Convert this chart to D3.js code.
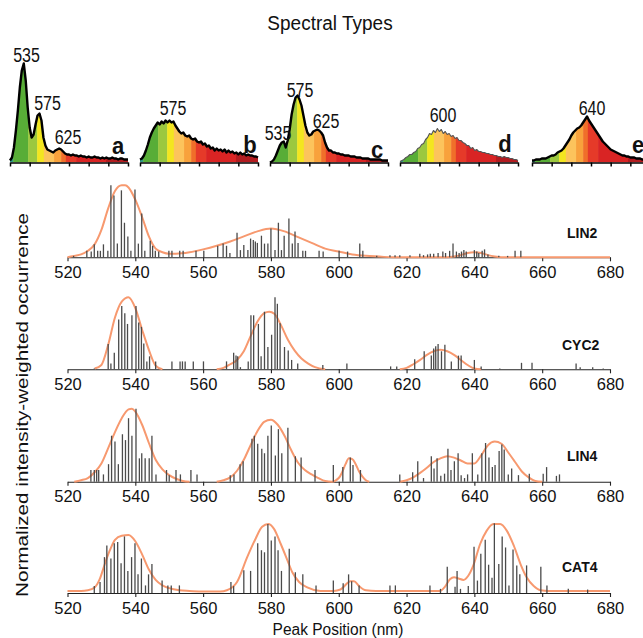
<!DOCTYPE html>
<html><head><meta charset="utf-8">
<script src="https://cdn.jsdelivr.net/npm/d3@7/dist/d3.min.js"></script>
<style>body{margin:0;background:#fff}svg{display:block}text{font-family:"Liberation Sans",Arial,Helvetica,sans-serif;fill:#111}</style>
</head><body><svg id="c" width="643" height="638"></svg>
<script>
// ---------- DATA ----------
const specStart = 500, specStep = 5;
const specA = [2,5,15,32,52,75,92,99,82,55, 35,25,28,38,47,49,42,25,17,13, 12,11,10,12,13,14,13,11,9,8, 8,7,8,7,7,6,7,6,6,5, 6,5,5,6,5,5,4,5,4,5, 4,4,5,4,4,3,4,4,3,3, 3];
const specB = [3,4,7,12,18,25,30,34,37,40, 38,41,39,42,40,42,40,41,37,34, 31,29,30,27,26,27,24,23,24,21, 20,21,18,19,16,17,14,15,12,14, 12,13,11,13,10,12,10,11,9,10, 8,10,8,9,7,8,7,7,6,6, 5];
const specC = [0,1,3,7,12,17,20,21,15,22, 33,48,58,65,67,63,57,47,37,30, 27,28,31,32,33,32,30,27,20,15, 12,12,10,10,9,9,8,8,7,7, 7,6,6,6,5,5,5,4,4,4, 4,3,3,3,3,3,3,2,2,2, 2];
const specD = [1,2,3,5,6,8,8,10,11,14, 15,18,19,23,25,29,28,32,30,34, 31,33,29,31,28,29,26,27,24,25, 22,22,20,19,17,17,14,15,12,13, 11,11,10,10,9,9,8,8,7,7, 6,6,5,6,5,5,4,4,3,3, 2];
const specE = [2,2,3,3,3,4,4,4,5,6, 7,7,8,10,11,12,14,17,20,23, 27,30,32,34,35,37,40,43,46,42, 39,36,33,30,27,24,21,19,17,15, 13,12,11,10,9,8,7,7,6,6, 5,5,5,4,4,4,3,3,3,3, 2];
const spectra = [specA, specB, specC, specD, specE];
const specLetters = ["a","b","c","d","e"];
const specPeakLabels = [["535","575","625"],["575"],["535","575","625"],["600"],["640"]];
const specTicks = [500,550,600,650,700,750,800];
const bandStops = [500,508,546,569,586,612,630,642,668,744,800];
const bandColors = ["#2f9a86","#58ad37","#9cc83f","#f3e61f","#fcc45c","#f8a23c","#f06f2a","#e53a29","#d92424","#b21c20"];

const peakTicks = [520,540,560,580,600,620,640,660,680];
const panelNames = ["LIN2","CYC2","LIN4","CAT4"];

const lin2Bars = [[521.8,0.02],[525.7,0.09],[527,0.08],[527.9,0.18],[528.9,0.09],[529.7,0.09],[530.6,0.18],[531.9,0.09],[532.8,1.0],[533.7,0.86],[534.7,0.19],[535.9,0.93],[536.8,0.48],[537.8,0.29],[538.7,0.09],[539.9,0.94],[540.9,0.19],[541.9,0.61],[542.8,0.09],[544.4,0.23],[545.1,0.16],[545.9,0.09],[546.9,0.08],[549.9,0.09],[550.8,0.09],[553.1,0.09],[554.1,0.09],[557.9,0.09],[560.2,0.09],[564.3,0.16],[565.9,0.19],[566.9,0.16],[567.9,0.06],[570.0,0.34],[571.0,0.1],[572.0,0.17],[573.2,0.1],[574.0,0.26],[574.8,0.24],[575.4,0.22],[576.0,0.2],[577.2,0.3],[578.1,0.19],[579.1,0.19],[580.0,0.4],[581.2,0.1],[582.2,0.48],[583.1,0.1],[583.9,0.3],[585.3,0.54],[586.3,0.19],[587.1,0.36],[588.0,0.2],[589.4,0.09],[590.2,0.09],[594.2,0.09],[595.4,0.08],[600.1,0.09],[602.6,0.08],[606.2,0.19],[607.1,0.09],[611.2,0.02],[615.1,0.03],[616.6,0.03],[618.0,0.03],[621.0,0.03],[623.9,0.05],[625.0,0.03],[626.2,0.04],[627.0,0.05],[628.0,0.05],[629.3,0.06],[630.7,0.08],[631.5,0.06],[632.7,0.09],[633.7,0.19],[634.7,0.08],[635.5,0.06],[636.2,0.08],[636.9,0.1],[637.6,0.08],[640.0,0.1],[640.7,0.08],[641.3,0.06],[642.3,0.09],[643.0,0.11],[644.0,0.04],[647.2,0.02],[649.8,0.02],[652.0,0.09],[653.7,0.09]];
const cyc2Bars = [[527.9,0.01],[532.0,0.35],[532.8,0.08],[533.8,0.23],[535.1,0.69],[536.0,0.88],[536.9,0.78],[537.7,0.63],[539.0,0.75],[540.2,0.88],[541.0,0.65],[541.8,0.59],[542.5,0.36],[543.4,0.11],[544.2,0.18],[546.0,0.11],[550.8,0.11],[553.2,0.11],[553.9,0.11],[554.7,0.11],[557.1,0.11],[560.1,0.11],[566.9,0.11],[569.0,0.23],[569.7,0.19],[570.2,0.18],[571.0,0.03],[573.3,0.11],[574.1,0.75],[574.9,0.75],[576.3,0.63],[577.1,0.18],[578.1,0.8],[579.1,0.31],[580.2,0.48],[581.2,1.0],[581.9,0.91],[582.7,0.64],[584.0,0.31],[585.1,0.26],[586.1,0.13],[587.9,0.08],[595.3,0.06],[602.4,0.08],[615.3,0.04],[617.1,0.04],[622.4,0.14],[625.2,0.25],[627.3,0.19],[628.0,0.29],[628.6,0.32],[629.3,0.35],[630.3,0.25],[631.3,0.34],[633.2,0.11],[635.3,0.19],[636.1,0.19],[640.0,0.13],[642.0,0.04],[647.5,0.01],[653.9,0.09],[657.0,0.09],[670.0,0.08],[671.2,0.03],[674.9,0.03],[678.0,0.01]];
const lin4Bars = [[526.9,0.16],[527.9,0.16],[528.6,0.16],[529.2,0.16],[530.6,0.1],[532.1,0.24],[533.0,0.63],[534.0,0.55],[535.0,0.24],[536.2,0.65],[537.1,0.57],[538.0,0.87],[539.0,0.63],[540.2,1.0],[541.2,0.32],[541.9,0.39],[542.9,0.32],[544.1,0.32],[544.9,0.63],[546.1,0.1],[549.2,0.16],[550.0,0.09],[552.0,0.16],[553.3,0.1],[556.4,0.16],[558.2,0.1],[568.0,0.09],[569.1,0.1],[570.9,0.24],[571.8,0.28],[574.4,0.59],[575.1,0.63],[576.1,0.52],[577.3,0.45],[578.1,0.39],[579.1,0.63],[580.1,0.77],[581.3,0.36],[582.2,0.72],[583.2,0.39],[585.0,0.74],[587.2,0.35],[588.9,0.33],[593.0,0.16],[598.4,0.23],[601.2,0.2],[603.4,0.33],[604.2,0.23],[606.4,0.16],[618.0,0.1],[621.8,0.13],[623.3,0.28],[625.0,0.05],[627.3,0.35],[628.1,0.18],[629.0,0.32],[630.1,0.08],[631.2,0.11],[632.2,0.45],[633.1,0.16],[634.1,0.28],[635.2,0.39],[636.1,0.09],[637.1,0.05],[638.0,0.1],[639.4,0.39],[641.0,0.1],[642.2,0.39],[643.3,0.53],[644.3,0.33],[645.3,0.2],[646.1,0.23],[647.3,0.42],[648.1,0.51],[648.8,0.44],[650.0,0.1],[651.0,0.18],[653.0,0.09],[656.2,0.11],[660.3,0.11],[661.3,0.2],[664.2,0.08],[665.1,0.1]];
const cat4Bars = [[527.9,0.1],[529.6,0.16],[530.9,0.52],[531.6,0.69],[532.8,0.5],[533.8,0.72],[534.8,0.74],[535.8,0.43],[536.8,0.82],[537.8,0.32],[538.9,0.52],[539.9,0.72],[540.8,0.27],[541.8,0.5],[543.0,0.11],[543.9,0.27],[544.9,0.42],[547.9,0.18],[549.6,0.11],[550.6,0.11],[553.0,0.11],[568.2,0.16],[569.0,0.1],[572.0,0.33],[574.0,0.32],[576.1,0.72],[577.2,0.62],[578.1,0.59],[579.1,1.0],[580.1,0.76],[581.2,0.82],[582.1,0.62],[583.1,0.32],[585.4,0.64],[587.2,0.3],[589.4,0.27],[593.3,0.11],[598.4,0.18],[601.3,0.14],[602.9,0.27],[603.8,0.17],[606.0,0.11],[615.1,0.11],[616.7,0.11],[626.9,0.11],[630.0,0.06],[632.0,0.38],[634.3,0.09],[634.9,0.32],[635.9,0.06],[638.2,0.1],[639.9,0.67],[640.9,0.18],[641.9,0.57],[643.2,0.77],[644.2,0.41],[645.2,0.22],[645.9,1.01],[647.2,0.42],[648.2,0.82],[649.2,0.66],[650.2,0.11],[651.4,0.63],[652.5,0.4],[653.4,0.27],[655.4,0.4],[659.6,0.38],[661.4,0.11],[667.7,0.06],[673.4,0.05]];

const lin2Curve = [[520,0],[522,0.02],[524,0.04],[526,0.09],[528,0.18],[530,0.38],[532,0.68],[534,0.92],[536,1.0],[537,1.0],[538,0.97],[540,0.8],[542,0.56],[544,0.29],[546,0.12],[548,0.07],[550,0.05],[552,0.05],[556,0.07],[560,0.11],[564,0.16],[568,0.22],[572,0.29],[576,0.36],[580,0.4],[584,0.36],[588,0.28],[592,0.2],[596,0.12],[600,0.08],[604,0.04],[608,0.02],[612,0.01],[616,0],[632,0],[634,0.01],[636,0.03],[638,0.06],[640,0.07],[642,0.06],[644,0.03],[646,0.01],[648,0],[680,0]];
const cyc2Curve = [[528,0.01],[530,0.06],[532,0.34],[534,0.72],[536,0.94],[538,1.0],[540,0.85],[542,0.55],[544,0.27],[546,0.05],[548,0],[556,null],[564,0],[566,0.02],[568,0.07],[570,0.13],[572,0.25],[574,0.46],[576,0.66],[578,0.78],[579.5,0.8],[581,0.77],[583,0.61],[585,0.41],[587,0.26],[589,0.15],[591,0.08],[593,0.03],[596,0],[610,null],[618,0],[620,0.02],[622,0.07],[624,0.13],[626,0.2],[628,0.25],[630,0.27],[632,0.25],[634,0.2],[636,0.13],[638,0.06],[640,0.01],[642,0]];
const lin4Curve = [[522,0],[524,0.02],[526,0.05],[528,0.13],[530,0.25],[532,0.46],[534,0.68],[536,0.87],[538,0.99],[539,1.0],[540,0.96],[542,0.78],[544,0.53],[546,0.3],[548,0.17],[550,0.09],[552,0.04],[554,0.01],[556,0],[560,null],[564,0],[566,0.02],[568,0.06],[570,0.15],[572,0.3],[574,0.5],[576,0.69],[578,0.82],[580,0.85],[582,0.78],[584,0.63],[586,0.43],[588,0.26],[590,0.16],[592,0.1],[594,0.05],[596,0.01],[598,0],[600,0.05],[601,0.13],[602,0.24],[603,0.32],[604,0.31],[605,0.24],[606,0.14],[607,0.07],[608,0.02],[609,0],[614,null],[618,0],[620,0.02],[622,0.06],[624,0.12],[626,0.19],[628,0.27],[630,0.32],[632,0.35],[634,0.33],[636,0.29],[638,0.25],[640,0.25],[642,0.36],[644,0.5],[646,0.55],[648,0.52],[650,0.4],[652,0.27],[654,0.14],[656,0.06],[658,0.01],[660,0]];
const cat4Curve = [[520,0.03],[524,0.03],[526,0.04],[528,0.08],[529.5,0.2],[531,0.42],[532.5,0.62],[534,0.77],[536,0.83],[538,0.84],[540,0.75],[542,0.56],[544,0.34],[546,0.19],[548,0.11],[550,0.07],[553,0.04],[556,0.03],[560,0.02],[565,0.02],[567,0.04],[570,0.16],[573,0.52],[575.4,0.78],[577.4,0.96],[579.2,1.0],[580.9,0.93],[582.9,0.71],[584.9,0.47],[586.3,0.3],[588.3,0.16],[590.7,0.08],[594.6,0.03],[598.5,0.03],[600.5,0.05],[603.5,0.17],[604.5,0.17],[606,0.1],[608,0.04],[611,0.03],[629.8,0.03],[631.3,0.09],[632.8,0.2],[634,0.23],[635.3,0.21],[636.8,0.19],[638.2,0.25],[639.7,0.4],[641.7,0.71],[643.6,0.9],[645.6,1.0],[647.6,1.0],[649.6,0.9],[651.6,0.69],[653.6,0.42],[655.5,0.22],[657.5,0.1],[659.5,0.04],[662,0.03],[680,0.03]];

const allBars = [lin2Bars, cyc2Bars, lin4Bars, cat4Bars];
const allCurves = [lin2Curve, cyc2Curve, lin4Curve, cat4Curve];

// ---------- LAYOUT ----------
const svg = d3.select("#c");
function label(g, x, y, s, size, o = {}) {
  return g.append("text")
    .attr("transform", `translate(${x},${y}) scale(1,${o.sy || 1})`)
    .attr("text-anchor", o.anchor || "middle")
    .style("font-size", size + "px")
    .style("font-weight", o.bold ? "bold" : "normal")
    .text(s);
}

// title
label(svg, 330, 30, "Spectral Types", 19, {sy: 1.08});

// ---------- TOP SPECTRA ----------
const specX0 = [10, 140, 270, 400, 532], specW = 118;
const specBase = 162.5;
const ys = d3.scaleLinear().domain([0, 100]).range([specBase, specBase - 100]);
const peakLabelPos = [[[26.5,62],[47.5,110],[68,144]], [[173,115]], [[278,140],[300,97],[326,128]], [[443,122]], [[592,115]]];
const letterPos = [[118,154],[250,153],[377,158],[505,152],[638,153]];

spectra.forEach((vals, i) => {
  const xs = d3.scaleLinear().domain([500, 800]).range([specX0[i], specX0[i] + specW]);
  const pts = vals.map((v, k) => ({nm: specStart + k * specStep, v}));
  const g = svg.append("g");
  const clipId = "clip" + i;
  g.append("clipPath").attr("id", clipId).append("path")
    .attr("d", d3.area().x(d => xs(d.nm)).y0(ys(0)).y1(d => ys(d.v))(pts));
  const bg = g.append("g").attr("clip-path", `url(#${clipId})`);
  for (let b = 0; b < bandColors.length; b++) {
    bg.append("rect").attr("x", xs(bandStops[b])).attr("width", xs(bandStops[b + 1]) - xs(bandStops[b]) + 0.4)
      .attr("y", ys(100)).attr("height", ys(0) - ys(100)).attr("fill", bandColors[b]);
  }
  g.append("path").attr("d", d3.line().x(d => xs(d.nm)).y(d => ys(d.v))(pts))
    .attr("fill", "none")
    .attr("stroke", i === 3 ? "#555" : "#000")
    .attr("stroke-width", i === 3 ? 1.1 : 2.4)
    .attr("stroke-linejoin", "round");
  const ax = g.append("g").attr("transform", `translate(0,${specBase})`)
    .call(d3.axisBottom(xs).tickValues(specTicks).tickSize(4).tickSizeOuter(0).tickFormat(""));
  ax.selectAll("path,line").attr("stroke", "#000").attr("stroke-width", 1.5);
  specPeakLabels[i].forEach((t, j) => label(g, peakLabelPos[i][j][0], peakLabelPos[i][j][1], t, 16, {sy: 1.25}));
  label(g, letterPos[i][0], letterPos[i][1], specLetters[i], 22, {bold: true, sy: 1.1});
});

// ---------- BOTTOM PANELS ----------
const x = d3.scaleLinear().domain([520, 680]).range([67.5, 610]);
const bases = [257.3, 369.3, 481.7, 593];
const units = [72, 72, 73, 69];
const namePos = [[567,238],[562,349.5],[567,461],[562,572]];

allBars.forEach((bars, i) => {
  const y = d3.scaleLinear().domain([0, 1]).range([bases[i], bases[i] - units[i]]);
  const g = svg.append("g");
  const ax = g.append("g").attr("transform", `translate(0,${bases[i]})`)
    .call(d3.axisBottom(x).tickValues(peakTicks).tickSize(4).tickSizeOuter(0).tickPadding(5).tickFormat(d3.format("d")));
  ax.select(".domain").attr("stroke", "#222").attr("stroke-width", 1.1);
  ax.selectAll(".tick line").attr("stroke", "#222").attr("stroke-width", 1.1);
  ax.selectAll(".tick text").style("font-size", "16.5px").attr("fill", "#111")
    .style("font-family", '"Liberation Sans",Arial,sans-serif');
  g.append("path").datum(allCurves[i])
    .attr("d", d3.line().defined(d => d[1] !== null).x(d => x(d[0])).y(d => y(d[1])).curve(d3.curveMonotoneX))
    .attr("fill", "none").attr("stroke", "#f7996f").attr("stroke-width", 2);
  g.selectAll("line.bar").data(bars).enter().append("line").attr("class", "bar")
    .attr("x1", d => x(d[0])).attr("x2", d => x(d[0]))
    .attr("y1", y(0)).attr("y2", d => y(d[1]))
    .attr("stroke", "#4a4a4a").attr("stroke-width", 1.3);
  label(g, namePos[i][0], namePos[i][1], panelNames[i], 14, {bold: true, anchor: "start", sy: 1.05});
});

// axis titles
label(svg, 338, 635, "Peak Position (nm)", 15.5, {sy: 1.1});
svg.append("text")
  .attr("transform", "translate(28,405) rotate(-90)")
  .attr("text-anchor", "middle")
  .attr("textLength", 384).attr("lengthAdjust", "spacingAndGlyphs")
  .style("font-size", "17px")
  .text("Normalized intensity-weighted occurrence");
</script></body></html>
